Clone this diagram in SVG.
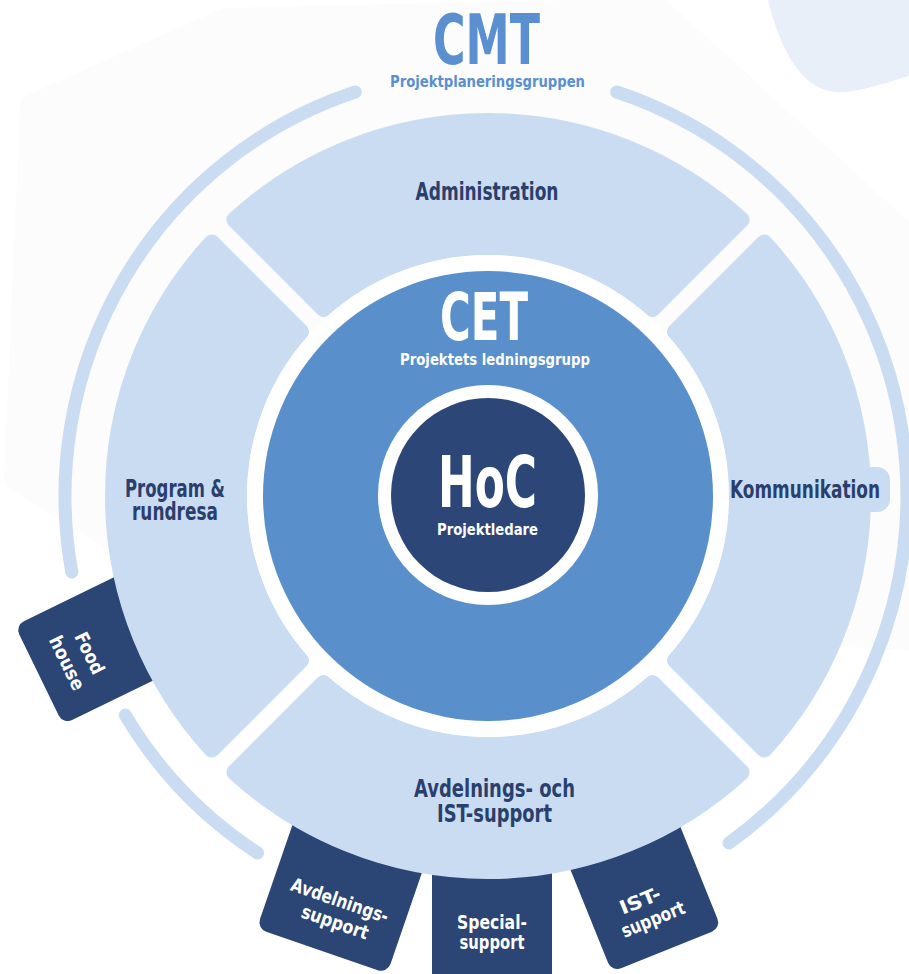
<svg xmlns="http://www.w3.org/2000/svg" xmlns:xlink="http://www.w3.org/1999/xlink" width="909" height="974" viewBox="0 0 909 974">
<defs>
<style>
.t{font-family:"DejaVu Sans Condensed","DejaVu Sans",sans-serif;font-stretch:condensed;font-weight:bold;}
.dk{fill:#2b3f6c;}
.wt{fill:#ffffff;}
.bl{fill:#5a8fd0;}
.seg{fill:#c9dcf2;stroke:#c9dcf2;stroke-width:16;stroke-linejoin:round;}
.tab{fill:#2b4574;}
.arc{fill:none;stroke:#c9dcf2;stroke-width:13;stroke-linecap:round;}
</style>
<path id="segshape" d="M -164.40,-187.02 L -253.61,-276.24 A 375 375 0 0 1 253.61,-276.24 L 164.40,-187.02 A 249 249 0 0 0 -164.40,-187.02 Z"/>
</defs>
<rect x="0" y="0" width="909" height="974" fill="#ffffff"/>
<path d="M 14,480 L 30,105 L 225,18 L 660,8 L 909,235 L 909,640 L 488,620 L 120,545 Z" fill="#fcfcfc" stroke="#fcfcfc" stroke-width="20" stroke-linejoin="round"/>
<path d="M 768,0 C 778,40 795,80 825,90 C 845,96 870,88 909,76 L 909,0 Z" fill="#e9eff8"/>

<g id="connectors">
<path class="arc" d="M 355.3,92 A 421 425 0 0 0 71.8,572"/>
<path class="arc" d="M 125.2,715 A 421 425 0 0 0 257.6,853"/>
<path class="arc" d="M 616.7,92 A 421 425 0 0 1 729,843"/>
</g>

<g id="tab-food" transform="translate(39 675) rotate(64)">
<rect class="tab" x="-55" y="-160" width="110" height="160" rx="10"/>
<text class="t wt" x="2.6" y="-48.5" font-size="19" text-anchor="middle" textLength="44" lengthAdjust="spacingAndGlyphs">Food</text>
<text class="t wt" x="1.5" y="-24" font-size="19" text-anchor="middle" textLength="58" lengthAdjust="spacingAndGlyphs">house</text>
</g>
<g id="tab-avd" transform="translate(322 951) rotate(19)">
<rect class="tab" x="-69" y="-150" width="138" height="150" rx="10"/>
<text class="t wt" x="0.4" y="-47" font-size="19" text-anchor="middle" textLength="102" lengthAdjust="spacingAndGlyphs">Avdelnings-</text>
<text class="t wt" x="3" y="-25" font-size="19" text-anchor="middle" textLength="70" lengthAdjust="spacingAndGlyphs">support</text>
</g>
<g id="tab-special">
<rect class="tab" x="432" y="850" width="120" height="140" rx="10"/>
<text class="t wt" x="492" y="929" font-size="19" text-anchor="middle" textLength="70" lengthAdjust="spacingAndGlyphs">Special-</text>
<text class="t wt" x="492" y="949" font-size="19" text-anchor="middle" textLength="65" lengthAdjust="spacingAndGlyphs">support</text>
</g>
<g id="tab-ist" transform="translate(666.5 950) rotate(-22)">
<rect class="tab" x="-59" y="-150" width="118" height="150" rx="10"/>
<text class="t wt" x="-6" y="-49" font-size="19" text-anchor="middle" textLength="43" lengthAdjust="spacingAndGlyphs">IST-</text>
<text class="t wt" x="-1" y="-27" font-size="19" text-anchor="middle" textLength="67" lengthAdjust="spacingAndGlyphs">support</text>
</g>

<g id="seg-admin">
<use xlink:href="#segshape" href="#segshape" class="seg" transform="translate(488 496)"/>
<text class="t dk" x="487" y="200" font-size="25" text-anchor="middle" textLength="143" lengthAdjust="spacingAndGlyphs">Administration</text>
</g>
<g id="seg-komm">
<use xlink:href="#segshape" href="#segshape" class="seg" transform="translate(488 496) rotate(90)"/>
<rect x="718" y="467" width="172" height="45" rx="13" fill="#c9dcf2"/>
<text class="t dk" x="805" y="498" font-size="25" text-anchor="middle" textLength="150" lengthAdjust="spacingAndGlyphs">Kommunikation</text>
</g>
<g id="seg-avd">
<use xlink:href="#segshape" href="#segshape" class="seg" transform="translate(488 496) rotate(180)"/>
<text class="t dk" x="494.5" y="797" font-size="25" text-anchor="middle" textLength="161" lengthAdjust="spacingAndGlyphs">Avdelnings- och</text>
<text class="t dk" x="494.5" y="822" font-size="25" text-anchor="middle" textLength="115" lengthAdjust="spacingAndGlyphs">IST-support</text>
</g>
<g id="seg-prog">
<use xlink:href="#segshape" href="#segshape" class="seg" transform="translate(488 496) rotate(270)"/>
<text class="t dk" x="175" y="497" font-size="25" text-anchor="middle" textLength="100" lengthAdjust="spacingAndGlyphs">Program &amp;</text>
<text class="t dk" x="175" y="520" font-size="25" text-anchor="middle" textLength="86" lengthAdjust="spacingAndGlyphs">rundresa</text>
</g>

<g id="cmt">
<text class="t bl" x="486.5" y="64" font-size="70" text-anchor="middle" textLength="107" lengthAdjust="spacingAndGlyphs">CMT</text>
<text class="t bl" x="487.5" y="87" font-size="16" text-anchor="middle" textLength="195" lengthAdjust="spacingAndGlyphs">Projektplaneringsgruppen</text>
</g>

<g id="cet">
<circle cx="488" cy="496" r="241" fill="#ffffff"/>
<circle cx="488" cy="496" r="225" fill="#5990cc"/>
<text class="t wt" x="484" y="340" font-size="66" text-anchor="middle" textLength="88" lengthAdjust="spacingAndGlyphs">CET</text>
<text class="t wt" x="495" y="365" font-size="16" text-anchor="middle" textLength="190" lengthAdjust="spacingAndGlyphs">Projektets ledningsgrupp</text>
</g>

<g id="hoc">
<circle cx="488" cy="495" r="110" fill="#ffffff"/>
<circle cx="488" cy="495" r="97" fill="#2b4677"/>
<text class="t wt" x="487.5" y="507" font-size="72" text-anchor="middle" textLength="99" lengthAdjust="spacingAndGlyphs">HoC</text>
<text class="t wt" x="487.5" y="535" font-size="16" text-anchor="middle" textLength="101" lengthAdjust="spacingAndGlyphs">Projektledare</text>
</g>
</svg>
